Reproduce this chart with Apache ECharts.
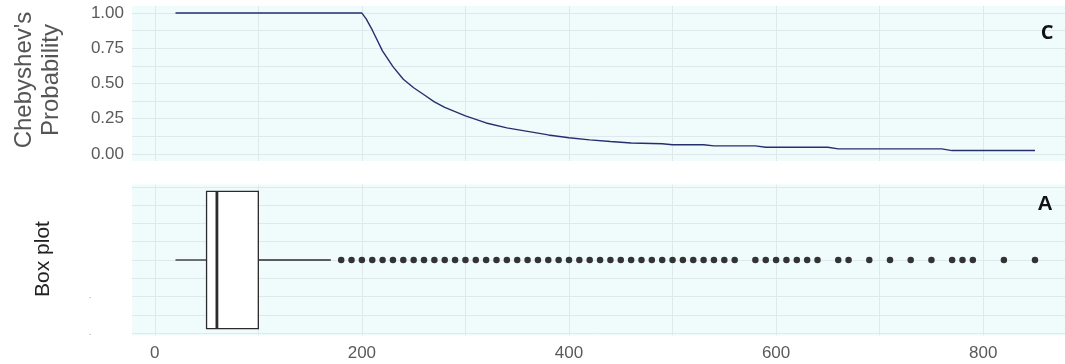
<!DOCTYPE html>
<html>
<head>
<meta charset="utf-8">
<script src="https://cdn.jsdelivr.net/npm/echarts@6/dist/echarts.min.js"></script>
<style>
  html, body { margin: 0; padding: 0; background: #fff; }
  #chart { width: 1065px; height: 364px; }
</style>
</head>
<body>
<div id="chart"></div>
<script>
// Chebyshev probability curve
const probX = [20, 200, 204, 210, 220, 230, 240, 250, 260, 270, 280, 290, 300, 320, 340, 360, 380, 400, 420, 440, 460, 490, 500, 530, 540, 580, 590, 650, 660, 760, 770, 850];
const probY = [1, 1, 0.96, 0.88, 0.73, 0.62, 0.53, 0.47, 0.42, 0.37, 0.33, 0.30, 0.27, 0.22, 0.185, 0.16, 0.135, 0.115, 0.10, 0.088, 0.078, 0.072, 0.065, 0.065, 0.057, 0.057, 0.048, 0.048, 0.036, 0.036, 0.024, 0.024];

// box plot: lower whisker, Q1, median, Q3, upper whisker
const boxStats = [20, 50, 60, 100, 170];
const outliers = [
  180, 190, 200, 210, 220, 230, 240, 250, 260, 270, 280, 290, 300, 310, 320, 330, 340, 350, 360, 370,
  380, 390, 400, 410, 420, 430, 440, 450, 460, 470, 480, 490, 500, 510, 520, 530, 540, 550, 560,
  580, 590, 600, 610, 620, 630, 640, 660, 670, 690, 710, 730, 750, 770, 780, 790, 820, 850
];

// axis ticks
const xLabels = [0, 200, 400, 600, 800];
const xGrid = [0, 100, 200, 300, 400, 500, 600, 700, 800];
const probLabels = [0, 0.25, 0.5, 0.75, 1];
const probGrid = [0, 0.125, 0.25, 0.375, 0.5, 0.625, 0.75, 0.875, 1];
const boxGrid = [-0.4, -0.3, -0.2, -0.1, 0, 0.1, 0.2, 0.3, 0.4];

const BG = "#f0fbfc";
const GRID_LINE = "#dfe8ec";
const LABEL = "#5a5a5a";
const BOX_HALF = 0.375;
const FONT = "'Liberation Sans', Arial, sans-serif";

const chart = echarts.init(document.getElementById("chart"));

const splitLine = { show: true, lineStyle: { color: GRID_LINE, width: 1 } };

const option = {
    animation: false,
    grid: [
        { left: 132, right: 0, top: 6, height: 155, show: true, backgroundColor: BG, borderWidth: 0 },
        { left: 132, right: 0, top: 184.5, height: 151, show: true, backgroundColor: BG, borderWidth: 0 },
    ],
    xAxis: [
        {
            gridIndex: 0, type: "value", min: -22, max: 879,
            axisLine: { show: false },
            axisTick: { show: false, customValues: xGrid },
            axisLabel: { show: false },
            splitLine,
        },
        {
            gridIndex: 1, type: "value", min: -22, max: 879,
            axisLine: { show: false },
            axisTick: { show: false, customValues: xGrid },
            axisLabel: {
                customValues: xLabels,
                color: LABEL, fontSize: 17, margin: 9, fontFamily: FONT,
            },
            splitLine,
        },
    ],
    yAxis: [
        {
            gridIndex: 0, type: "value", min: -0.05, max: 1.05,
            axisLine: { show: false },
            axisTick: { show: false, customValues: probGrid },
            axisLabel: {
                customValues: probLabels,
                formatter: (v) => v.toFixed(2),
                color: LABEL, fontSize: 17, margin: 8, fontFamily: FONT,
            },
            splitLine,
        },
        {
            gridIndex: 1, type: "value", min: -0.4125, max: 0.4125,
            axisLine: { show: false },
            axisTick: { show: false, customValues: boxGrid },
            axisLabel: { show: false },
            splitLine,
        },
    ],
    graphic: [
        {
            type: "text", x: 38, y: 80, rotation: Math.PI / 2, z: 100,
            style: {
                text: "Chebyshev's\nProbability", fill: "#555",
                fontSize: 24, fontFamily: FONT,
                align: "center", verticalAlign: "middle", lineHeight: 27,
            },
        },
        {
            type: "text", x: 43, y: 259, rotation: Math.PI / 2, z: 100,
            style: {
                text: "Box plot", fill: "#222",
                fontSize: 21, fontFamily: FONT,
                align: "center", verticalAlign: "middle",
            },
        },
        {
            type: "text", x: 1047, y: 33, z: 100,
            style: { text: "C", fill: "#111", fontSize: 20, fontWeight: "bold", fontFamily: "'Open Sans', sans-serif", align: "center", verticalAlign: "middle" },
        },
        {
            type: "text", x: 1045, y: 204, z: 100,
            style: { text: "A", fill: "#111", fontSize: 21, fontWeight: "bold", fontFamily: FONT, align: "center", verticalAlign: "middle" },
        },
        {
            type: "text", x: 90, y: 298, z: 100,
            style: { text: "·", fill: "#999", fontSize: 9, fontFamily: FONT, align: "center", verticalAlign: "middle" },
        },
        {
            type: "text", x: 90, y: 335, z: 100,
            style: { text: "·", fill: "#999", fontSize: 9, fontFamily: FONT, align: "center", verticalAlign: "middle" },
        },
    ],
    series: [
        {
            name: "Chebyshev",
            type: "line",
            xAxisIndex: 0, yAxisIndex: 0,
            data: probX.map((x, i) => [x, probY[i]]),
            showSymbol: false,
            lineStyle: { color: "#262f6e", width: 1.4 },
        },
        {
            name: "Box",
            type: "custom",
            xAxisIndex: 1, yAxisIndex: 1,
            data: [boxStats],
            encode: { x: [0, 1, 2, 3, 4] },
            renderItem: (params, api) => {
                const lo = api.coord([api.value(0), 0]);
                const q1 = api.coord([api.value(1), BOX_HALF]);
                const md = api.coord([api.value(2), 0]);
                const q3 = api.coord([api.value(3), -BOX_HALF]);
                const hi = api.coord([api.value(4), 0]);
                const yc = lo[1];
                const stroke = { stroke: "#2b2b2b", lineWidth: 1.3, fill: null };
                return {
                    type: "group",
                    children: [
                        { type: "line", shape: { x1: lo[0], y1: yc, x2: q1[0], y2: yc }, style: stroke },
                        { type: "line", shape: { x1: q3[0], y1: yc, x2: hi[0], y2: yc }, style: stroke },
                        {
                            type: "rect",
                            shape: { x: q1[0], y: q1[1], width: q3[0] - q1[0], height: q3[1] - q1[1] },
                            style: { stroke: "#2b2b2b", lineWidth: 1.3, fill: "#fff" },
                        },
                        { type: "line", shape: { x1: md[0], y1: q1[1], x2: md[0], y2: q3[1] }, style: { stroke: "#2b2b2b", lineWidth: 2.8 } },
                    ],
                };
            },
        },
        {
            name: "Outliers",
            type: "scatter",
            xAxisIndex: 1, yAxisIndex: 1,
            data: outliers.map((x) => [x, 0]),
            symbolSize: 6.5,
            itemStyle: { color: "#333", opacity: 1 },
        },
    ],
};

chart.setOption(option);
</script>
</body>
</html>
